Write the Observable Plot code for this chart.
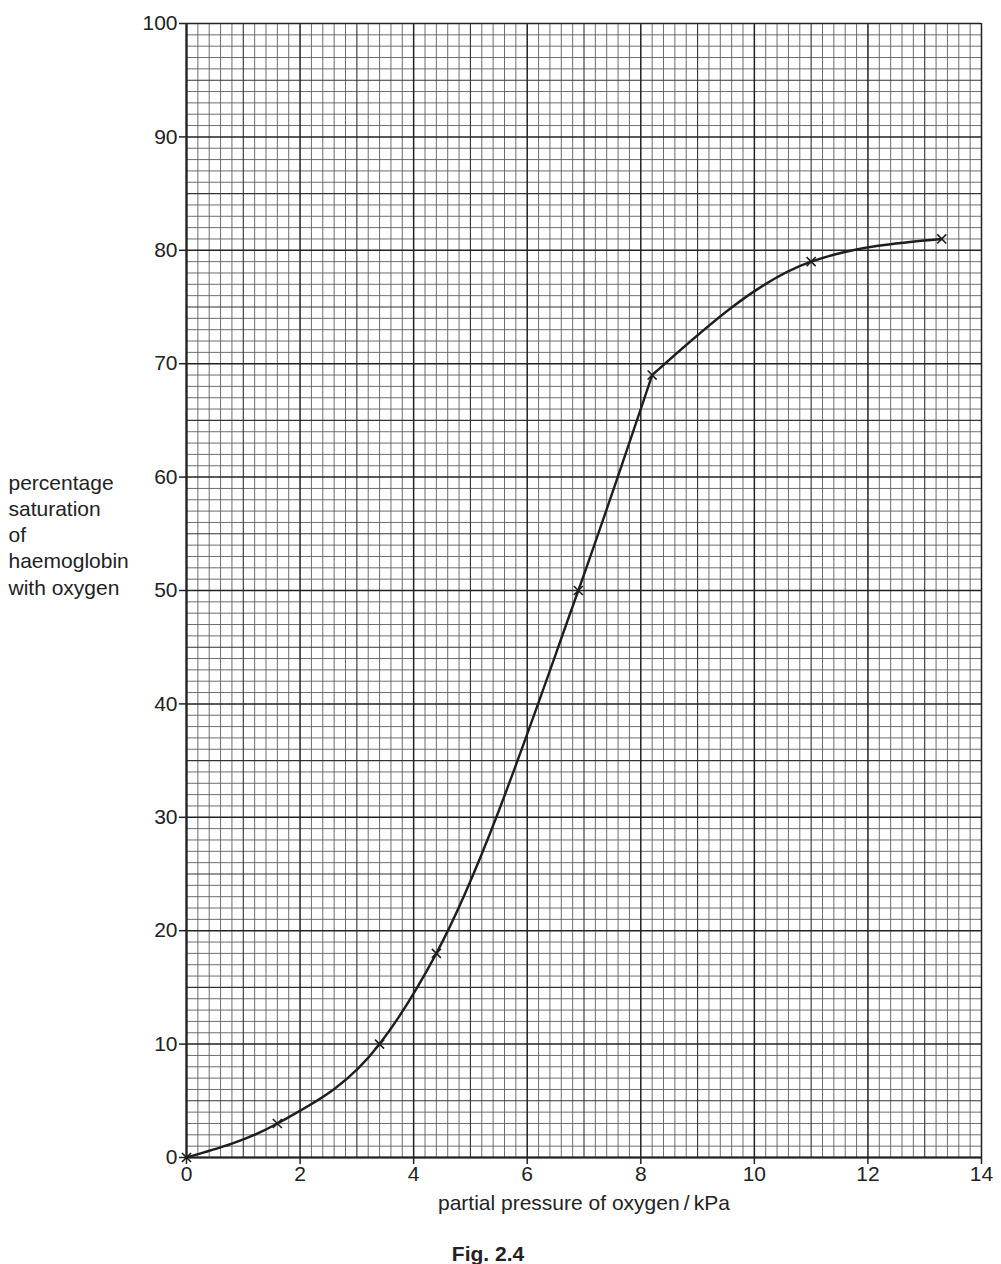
<!DOCTYPE html>
<html>
<head>
<meta charset="utf-8">
<script src="https://cdn.jsdelivr.net/npm/d3@7"></script>
<script src="https://cdn.jsdelivr.net/npm/@observablehq/plot@0.6"></script>
<style>
  html, body { margin: 0; padding: 0; background: #fff; }
  #chart svg { display: block; }
  #caption { width: 976px; padding-top: 12px; line-height: 24px; text-align: center;
    font-family: "Liberation Sans", Arial, sans-serif; font-weight: bold; font-size: 21px; color: #222; }
</style>
</head>
<body>
<div id="chart"></div>
<div id="caption">Fig. 2.4</div>
<script>
// Data
const pressure = [0, 1.6, 3.4, 4.4, 6.9, 8.2, 11, 13.3];
const saturation = [0, 3, 10, 18, 50, 69, 79, 81];
const xTicks = [0, 2, 4, 6, 8, 10, 12, 14];
const yTicks = [0, 10, 20, 30, 40, 50, 60, 70, 80, 90, 100];
const xLabel = "partial pressure of oxygen\u2009/\u2009kPa";
const yLabelLines = ["percentage", "saturation", "of", "haemoglobin", "with oxygen"];

const data = pressure.map((p, i) => ({p, s: saturation[i]}));
// the hand-drawn curve bends sharply at the 8.2 kPa point: draw it as two smooth pieces
const bendIndex = pressure.indexOf(8.2);
const lowerPart = data.slice(0, bendIndex + 1);
const upperPart = data.slice(bendIndex);

// graph paper lines
const xMinor = d3.range(0, 71).map(i => i * 0.2).filter((v, i) => i % 5 !== 0);
const yMinor = d3.range(0, 101).filter(v => v % 5 !== 0);
const xMedium = d3.range(1, 14, 2);
const yMedium = d3.range(5, 100, 10);

const ink = "#1e1e1e";
const fs = 21;

const chart = Plot.plot({
  width: 1001,
  height: 1230,
  marginLeft: 186,
  marginRight: 20,
  marginTop: 23,
  marginBottom: 73,
  style: {fontFamily: "'Liberation Sans', Arial, sans-serif", fontSize: "21px", color: "#222", background: "#fff"},
  x: {domain: [0, 14]},
  y: {domain: [0, 100]},
  marks: [
    Plot.ruleX(xMinor, {stroke: "#5e5e5e", strokeWidth: 0.9}),
    Plot.ruleY(yMinor, {stroke: "#5e5e5e", strokeWidth: 0.9}),
    Plot.ruleX(xMedium, {stroke: "#333", strokeWidth: 1.1}),
    Plot.ruleY(yMedium, {stroke: "#333", strokeWidth: 1.1}),
    Plot.ruleX(xTicks, {stroke: "#222", strokeWidth: 1.5}),
    Plot.ruleY(yTicks, {stroke: "#222", strokeWidth: 1.5}),
    Plot.ruleX([0], {stroke: "#222", strokeWidth: 2.2}),
    Plot.ruleY([0], {stroke: "#222", strokeWidth: 2.2}),
    Plot.axisX({ticks: xTicks, tickSize: 7, tickPadding: 2, tickFormat: d => d, label: null, fontSize: fs, stroke: "#222", strokeWidth: 1.5, fill: "#222"}),
    Plot.axisY({ticks: yTicks, tickSize: 7, tickPadding: 2, tickFormat: d => d, label: null, fontSize: fs, stroke: "#222", strokeWidth: 1.5, fill: "#222"}),
    Plot.text([xLabel], {text: d => d, frameAnchor: "bottom", lineAnchor: "middle", dy: 46, fontSize: fs, fill: "#222"}),
    Plot.text([yLabelLines.join("\n")], {text: d => d, y: () => 55, frameAnchor: "left", textAnchor: "start", lineAnchor: "middle", dx: -178, lineHeight: 1.25, fontSize: fs, fill: "#222"}),
    Plot.line(lowerPart, {x: "p", y: "s", curve: "monotone-x", stroke: ink, strokeWidth: 2.4}),
    Plot.line(upperPart, {x: "p", y: "s", curve: "monotone-x", stroke: ink, strokeWidth: 2.4}),
    Plot.dot(data, {x: "p", y: "s", symbol: "times", r: 4.2, stroke: ink, strokeWidth: 1.6})
  ]
});
document.getElementById("chart").appendChild(chart);
</script>
</body>
</html>
